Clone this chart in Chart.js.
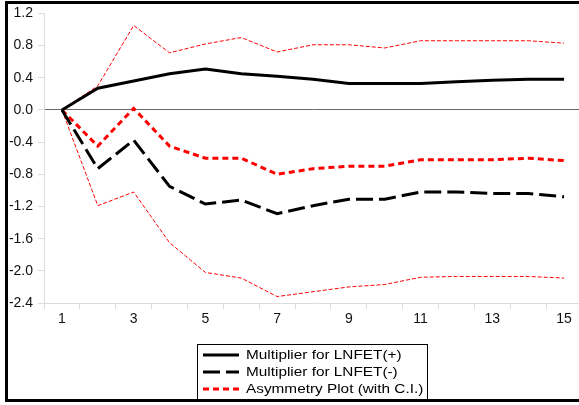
<!DOCTYPE html>
<html>
<head>
<meta charset="utf-8">
<script src="https://cdn.jsdelivr.net/npm/chart.js@4/dist/chart.umd.min.js"></script>
<style>
  html, body { margin: 0; padding: 0; background: #fff; }
  #wrap { width: 579px; height: 405px; overflow: hidden; position: relative; }
  canvas { display: block; }
</style>
</head>
<body>
<div id="wrap"><canvas id="chart" width="582" height="405"></canvas></div>
<script>
// horizons 1..15
const categories = ['1', '2', '3', '4', '5', '6', '7', '8', '9', '10', '11', '12', '13', '14', '15'];

const plusValues  = [0, 0.27, 0.36, 0.45, 0.51, 0.45, 0.42, 0.38, 0.33, 0.33, 0.33, 0.35, 0.37, 0.38, 0.38];
const minusValues = [0, -0.73, -0.375, -0.95, -1.17, -1.12, -1.29, -1.19, -1.11, -1.11, -1.02, -1.02, -1.04, -1.04, -1.08];
const asymValues  = [0, -0.45, 0.02, -0.45, -0.60, -0.60, -0.80, -0.73, -0.70, -0.70, -0.62, -0.62, -0.62, -0.60, -0.63];
const upperCI     = [0, 0.30, 1.05, 0.71, 0.82, 0.90, 0.72, 0.81, 0.81, 0.77, 0.86, 0.86, 0.86, 0.86, 0.83];
const lowerCI     = [0, -1.19, -1.02, -1.65, -2.02, -2.09, -2.32, -2.26, -2.20, -2.17, -2.08, -2.07, -2.07, -2.07, -2.09];

const seriesLabels = ['Multiplier for LNFET(+)', 'Multiplier for LNFET(-)', 'Asymmetry Plot (with C.I.)'];
const yTickValues = [-2.4, -2.0, -1.6, -1.2, -0.8, -0.4, 0.0, 0.4, 0.8, 1.2];

const FONT = 'Arial, "Liberation Sans", sans-serif';

// frame around the figure + boxed legend underneath
const framePlugin = {
  id: 'frame',
  afterDraw(chart) {
    const ctx = chart.ctx;
    ctx.save();
    ctx.fillStyle = '#000';
    ctx.fillRect(5, 1, 3, 401);
    ctx.fillRect(5, 1, 600, 3);
    ctx.fillRect(5, 399, 600, 3);

    // legend (text is a bit wide in the original, hence the scaleX)
    ctx.strokeStyle = '#000';
    ctx.lineWidth = 1;
    ctx.strokeRect(197.5, 344.5, 230, 56);
    ctx.font = '13px ' + FONT;
    ctx.textBaseline = 'middle';
    const rows = [355, 372, 389];
    chart.data.datasets.forEach((ds, i) => {
      if (!ds.label) return;
      const y = rows[i];
      ctx.beginPath();
      ctx.setLineDash(ds.borderDash || []);
      ctx.strokeStyle = ds.borderColor;
      ctx.lineWidth = ds.borderWidth;
      ctx.moveTo(203, y);
      ctx.lineTo(239, y);
      ctx.stroke();
      ctx.setLineDash([]);
      ctx.save();
      ctx.translate(246, y + 0.5);
      ctx.scale(1.18, 1);
      ctx.fillStyle = '#000';
      ctx.fillText(ds.label, 0, 0);
      ctx.restore();
    });
    ctx.restore();
  }
};

const line = (label, data, color, width, dash) => ({
  label: label,
  data: data,
  borderColor: color,
  borderWidth: width,
  borderDash: dash,
  pointRadius: 0,
  tension: 0,
  fill: false
});

new Chart(document.getElementById('chart'), {
  type: 'line',
  data: {
    labels: categories,
    datasets: [
      line(seriesLabels[0], plusValues, '#000', 3, []),
      line(seriesLabels[1], minusValues, '#000', 3, [17, 6]),
      line(seriesLabels[2], asymValues, '#ff0000', 3, [6, 4]),
      line('', upperCI, '#ff0000', 1, [4, 2]),
      line('', lowerCI, '#ff0000', 1, [4, 2])
    ]
  },
  options: {
    responsive: false,
    animation: false,
    layout: { padding: { left: 6, top: 12, right: 0, bottom: 72 } },
    plugins: {
      legend: { display: false },
      tooltip: { enabled: false }
    },
    scales: {
      x: {
        offset: true,
        grid: {
          offset: true,
          color: 'transparent',
          tickColor: '#dcdcdc',
          tickLength: 6
        },
        border: { color: '#dcdcdc' },
        ticks: {
          autoSkip: false,
          maxRotation: 0,
          padding: 2,
          color: '#111',
          font: { family: FONT, size: 14 },
          callback: (v, i) => (i % 2 === 0 ? categories[i] : '')
        },
        afterFit: (s) => { s.height = 30; }
      },
      y: {
        min: -2.4,
        max: 1.2,
        afterBuildTicks: (s) => { s.ticks = yTickValues.map(v => ({ value: v })); },
        grid: {
          color: (c) => (c.tick && Math.abs(c.tick.value) < 1e-9 ? '#6a6a6a' : 'transparent'),
          tickColor: '#dcdcdc',
          tickLength: 6
        },
        border: { color: '#dcdcdc' },
        ticks: {
          padding: 5,
          color: '#111',
          font: { family: FONT, size: 14 },
          callback: (v) => Number(v).toFixed(1)
        },
        afterFit: (s) => { s.width = 38; }
      }
    }
  },
  plugins: [framePlugin]
});
</script>
</body>
</html>
